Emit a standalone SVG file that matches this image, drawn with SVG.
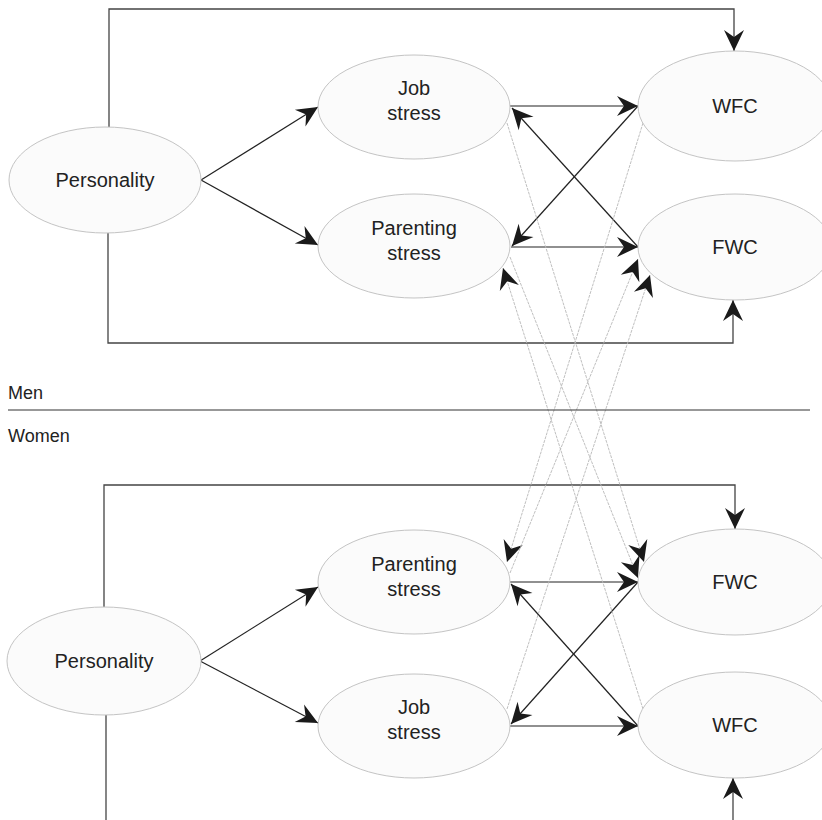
<svg xmlns="http://www.w3.org/2000/svg" width="822" height="820" viewBox="0 0 822 820">
<style>
.node ellipse{fill:#fbfbfb;stroke:#c4c4c4;stroke-width:1}
text{font-family:"Liberation Sans",Arial,sans-serif;font-size:20px;fill:#222;text-anchor:middle}
.lbl{font-size:18px;text-anchor:start}
.blk{fill:none;stroke:#222;stroke-width:1.2;marker-end:url(#ah)}
.frm{fill:none;stroke:#444;stroke-width:1.3}
.gry{fill:none;stroke:#b8b8b8;stroke-width:0.9;stroke-dasharray:3 1;marker-end:url(#ah)}
</style>
<defs>
<marker id="ah" markerUnits="userSpaceOnUse" viewBox="-22 -11 23 22" markerWidth="23" markerHeight="22" refX="0" refY="0" orient="auto">
<path d="M0,0 L-21,-10 L-14,0 L-21,10 Z" fill="#1a1a1a"/>
</marker>
</defs>
<rect width="822" height="820" fill="#fff"/>

<g id="connectors">
<!-- men frame -->
<path class="frm" d="M109,127 V9 H734 V51" marker-end="url(#ah)"/>
<path class="frm" d="M108,233 V343 H733 V300" marker-end="url(#ah)"/>
<!-- women frame -->
<path class="frm" d="M104,607 V485 H735 V529" marker-end="url(#ah)"/>
<path class="frm" d="M106,715 V820"/>
<path class="frm" d="M733,820 V778" marker-end="url(#ah)"/>
<!-- personality arrows -->
<path class="blk" d="M201,180 L318,107"/>
<path class="blk" d="M201,180 L318,245"/>
<path class="blk" d="M200,661 L318,587"/>
<path class="blk" d="M200,661 L318,723"/>
<!-- men black -->
<path class="blk" d="M510,106 H638"/>
<path class="blk" d="M511,247 H638"/>
<path class="blk" d="M638,106 L512,246"/>
<path class="blk" d="M638,247 L512,108"/>
<!-- women black -->
<path class="blk" d="M510,582 H638"/>
<path class="blk" d="M510,726 H638"/>
<path class="blk" d="M638,582 L511,724"/>
<path class="blk" d="M638,726 L511,584"/>
<!-- cross-partner gray -->
<path class="gry" d="M507,123 L644,562"/>
<path class="gry" d="M510,257 L638,578"/>
<path class="gry" d="M643,123 L507,562"/>
<path class="gry" d="M507,709 L650,275"/>
<path class="gry" d="M510,573 L638,259"/>
<path class="gry" d="M643,709 L503,268"/>
<!-- separator -->
<line x1="8" y1="410" x2="810" y2="410" stroke="#333" stroke-width="1.2"/>
</g>

<g id="men-personality" class="node"><ellipse cx="105" cy="180" rx="96" ry="53"/><text x="105" y="187">Personality</text></g>
<g id="men-job-stress" class="node"><ellipse cx="414" cy="107" rx="96" ry="52"/><text x="414" y="95">Job</text><text x="414" y="120">stress</text></g>
<g id="men-parenting-stress" class="node"><ellipse cx="414" cy="246" rx="96" ry="52"/><text x="414" y="235">Parenting</text><text x="414" y="260">stress</text></g>
<g id="men-wfc" class="node"><ellipse cx="735" cy="106" rx="97" ry="55"/><text x="735" y="113">WFC</text></g>
<g id="men-fwc" class="node"><ellipse cx="735" cy="247" rx="97" ry="53"/><text x="735" y="254">FWC</text></g>

<g id="women-personality" class="node"><ellipse cx="104" cy="661" rx="97" ry="54"/><text x="104" y="668">Personality</text></g>
<g id="women-parenting-stress" class="node"><ellipse cx="414" cy="582" rx="96" ry="52"/><text x="414" y="571">Parenting</text><text x="414" y="596">stress</text></g>
<g id="women-job-stress" class="node"><ellipse cx="414" cy="726" rx="96" ry="52"/><text x="414" y="714">Job</text><text x="414" y="739">stress</text></g>
<g id="women-fwc" class="node"><ellipse cx="735" cy="582" rx="97" ry="53"/><text x="735" y="589">FWC</text></g>
<g id="women-wfc" class="node"><ellipse cx="735" cy="725" rx="97" ry="53"/><text x="735" y="732">WFC</text></g>

<g id="labels">
<text class="lbl" x="8" y="399">Men</text>
<text class="lbl" x="8" y="442">Women</text>
</g>
</svg>
